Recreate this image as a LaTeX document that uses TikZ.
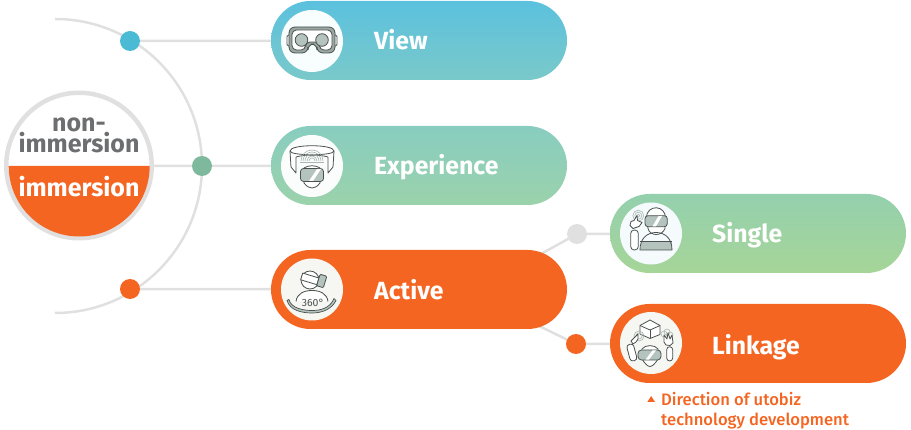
\documentclass[tikz,border=0pt]{standalone}
\usepackage{fontspec}
\usepackage{xcolor}
\setmainfont{Fira Sans}
\newfontfamily\notefont{Fira Sans Medium}
\usetikzlibrary{backgrounds}
\definecolor{accent}{HTML}{F56522}
\definecolor{linkgray}{HTML}{E0E0E0}
\definecolor{textgray}{HTML}{6D6E70}
\definecolor{iconink}{HTML}{4A504E}
\definecolor{iconfill}{HTML}{B4C3BD}
\definecolor{iconhalo}{HTML}{A9B5B0}
\definecolor{viewtop}{HTML}{5BC1DE}
\definecolor{viewbot}{HTML}{7AC9C9}
\definecolor{exptop}{HTML}{88CDC0}
\definecolor{expbot}{HTML}{9BD2AB}
\definecolor{singletop}{HTML}{94D0AE}
\definecolor{singlebot}{HTML}{A6D597}
\definecolor{viewdot}{HTML}{4BBAD5}
\definecolor{expdot}{HTML}{7EB89D}
\definecolor{discwarm}{HTML}{F6F7F2}
\tikzset{
  linkline/.style={draw=linkgray,line width=2.5pt},
  dotmark/.style={circle,minimum size=20pt,inner sep=0pt,outer sep=0pt},
  pillbox/.style={rectangle,rounded corners=39.5pt,minimum width=296pt,minimum height=79pt,inner sep=0pt,outer sep=0pt},
  iconbase/.style={circle,minimum size=62pt,inner sep=0pt,outer sep=0pt,fill=#1},
  pilltext/.style={anchor=west,inner sep=0pt,text=white,font=\bfseries\fontsize{24.8}{24}\selectfont},
  coretext/.style={inner sep=0pt,font=\bfseries\fontsize{25}{19.5}\selectfont,align=center},
  ink/.style={draw=iconink,line width=0.8pt,line join=round},
  inkfill/.style={ink,fill=iconfill},
  halo/.style={draw=iconhalo,line width=0.6pt},
}
\begin{document}
\begin{tikzpicture}[x=1pt,y=-1pt]
\useasboundingbox (0,0) rectangle (911,430);
% centre disc
\node[circle,draw=linkgray,line width=4.5pt,minimum size=145.5pt,inner sep=0pt,outer sep=2.25pt] (core) at (79,165.5) {};
\fill[accent] (8.7,166) arc[start angle=180,end angle=360,radius=70.5pt] -- cycle;
\node[coretext,text=textgray] (coretop) at (79,135.5) {non-\\immersion};
\node[coretext,text=white] (corebottom) at (79,187) {immersion};
% pills
\node[pillbox,top color=viewtop,bottom color=viewbot] (view) at (419,40.5) {};
\node[pillbox,top color=exptop,bottom color=expbot] (experience) at (419,165.5) {};
\node[pillbox,fill=accent] (active) at (419,289.5) {};
\node[pillbox,top color=singletop,bottom color=singlebot] (single) at (758,233.5) {};
\node[pillbox,fill=accent] (linkage) at (758,343.5) {};
\node[pilltext] (viewlabel) at (374,39.5) {View};
\node[pilltext] (experiencelabel) at (374,167) {Experience};
\node[pilltext] (activelabel) at (374,290) {Active};
\node[pilltext] (singlelabel) at (712,235) {Single};
\node[pilltext] (linkagelabel) at (712,347) {Linkage};
% icon discs
\node[iconbase=white!96!viewtop] (viewicon) at (312,41) {};
\node[iconbase=white!96!exptop] (experienceicon) at (312,166) {};
\node[iconbase=discwarm] (activeicon) at (312,289.5) {};
\node[iconbase=white!94!viewtop] (singleicon) at (651,233.5) {};
\node[iconbase=discwarm] (linkageicon) at (651,343) {};
% dots
\node[dotmark,fill=viewdot] (dotview) at (130,41) {};
\node[dotmark,fill=expdot] (dotexperience) at (202,166) {};
\node[dotmark,fill=accent] (dotactive) at (130,289) {};
\node[dotmark,fill=linkgray] (dotsingle) at (577,234) {};
\node[dotmark,fill=accent] (dotlinkage) at (576,344) {};
\coordinate (activeup) at (530,260);
\coordinate (activedown) at (530,321.6);
\coordinate (arctop) at (55,19);
% connectors go under everything else
\begin{scope}[on background layer]
\draw[linkline] (arctop) arc[start angle=90,end angle=-90,radius=147pt];
\draw[linkline] (dotview) -- (view);
\draw[linkline] (core) -- (dotexperience);
\draw[linkline] (dotexperience) -- (experience);
\draw[linkline] (dotactive) -- (active);
\draw[linkline] (dotsingle) -- (activeup);
\draw[linkline] (dotsingle) -- (single);
\draw[linkline] (dotlinkage) -- (activedown);
\draw[linkline] (dotlinkage) -- (linkage);
\end{scope}
% goggles
\begin{scope}[shift={(312,41)}]
\draw[ink,fill=white,rounded corners=1.5pt] (-25,-6) rectangle (-21,5);
\draw[ink,fill=white,rounded corners=1.5pt] (21,-6) rectangle (25,5);
\draw[inkfill,fill=iconfill!75!iconink,rounded corners=6pt] (-23,-14) -- (23,-14) -- (23,12) -- (5,12) -- (5,3) -- (-4,3) -- (-4,12) -- (-23,12) -- cycle;
\draw[ink,fill=white,rounded corners=4.5pt] (-20,-11) -- (20,-11) -- (20,9) -- (7.5,9) -- (7.5,1) -- (-6.5,1) -- (-6.5,9) -- (-20,9) -- cycle;
\draw[inkfill] (-10.5,-1) circle (6.3pt);
\draw[inkfill] (10,-1) circle (6.3pt);
\end{scope}
% surround screen with viewer
\begin{scope}[shift={(312,166)}]
\draw[ink,fill=white] (-22,-15) .. controls (-22,-22) and (22,-22) .. (22,-15) -- (21,1) -- (16,7) -- (16,-9) .. controls (8,-11.5) and (-8,-11.5) .. (-16,-9) -- (-16,7) -- (-21,1) -- cycle;
\draw[ink] (-22,-15) .. controls (-22,-10) and (22,-10) .. (22,-15);
\foreach \r in {3,5,7,9,11}
  \draw[halo] (-\r,-5) arc[start angle=180,end angle=0,radius=\r pt];
\draw[halo] (-12,-4) -- (12,-4);
\draw[ink,fill=white] (-8,2) .. controls (-4,-1) and (4,-1) .. (8,2) -- (8,17) .. controls (5,21) and (2,22) .. (0,22) .. controls (-2,22) and (-5,21) .. (-8,17) -- cycle;
\draw[inkfill,rounded corners=3pt] (-11.5,2.5) rectangle (11.5,15.5);
\fill[white] (1,15) -- (9,3) -- (5,3) -- (-3,15) -- cycle;
\end{scope}
% head with 360 stage
\begin{scope}[shift={(312,289.5)}]
\draw[ink,fill=white] (-2,-9.5) circle (9pt);
\draw[ink,fill=white,rotate around={-17:(-2,-9.5)}] (-11,-14) rectangle (6,-7);
\draw[inkfill,rotate around={-17:(-2,-9.5)},rounded corners=1pt] (6,-18) rectangle (13,-6);
\draw[ink,fill=white] (-16,12) .. controls (-15,4) and (-8,1) .. (0,1) .. controls (8,1) and (15,4) .. (16,12);
\draw[inkfill,line width=0.7pt] (-23,10) .. controls (-21,19) and (-8,21) .. (0,21) .. controls (8,21) and (18,19) .. (22,9) -- (24,11) .. controls (19,21) and (8,23.5) .. (0,23.5) .. controls (-10,23.5) and (-22,21) .. (-25,11) -- cycle;
\node[inner sep=0pt,text=iconink,font=\fontsize{10.5}{11}\selectfont] (stagelabel) at (1,13) {360°};
\end{scope}
% single user with hand control
\begin{scope}[shift={(651,233.5)}]
\foreach \r in {1.5,3.5,5.5}
  \draw[halo] (-12.7,-17.8) circle (\r pt);
\draw[ink,fill=white,rounded corners=3.5pt] (-20.3,-3.5) rectangle (-12.7,16.5);
\draw[ink,fill=white] (-21,-8) -- (-20,-12) -- (-17,-13) -- (-14,-18) -- (-13.5,-13) -- (-9,-11) -- (-12,-7) -- (-18,-5) -- cycle;
\draw[ink,fill=white] (-4,-13) arc[start angle=200,end angle=-20,radius=9.5pt] -- (14,-5) .. controls (11,3) and (-1,3) .. (-3,-5) -- cycle;
\draw[inkfill,rounded corners=3pt] (-6,-17.8) rectangle (16.3,-6.8);
\fill[white] (5,-7.2) -- (11,-17.4) -- (7.5,-17.4) -- (1.5,-7.2) -- cycle;
\fill[iconfill] (-10.5,8) -- (20.8,8) -- (20.8,16.5) -- (-10.5,16.5) -- cycle;
\draw[ink] (-11,16.5) .. controls (-11,4) and (-3,-1) .. (5,-1) .. controls (13,-1) and (21,4) .. (21,16.5) -- cycle;
\draw[ink] (-11,8) -- (20.5,8);
\end{scope}
% shared object with two users
\begin{scope}[shift={(651,343)}]
\draw[ink,fill=white] (-1,-23) -- (9,-17.5) -- (9,-8.5) -- (-1,-4.5) -- (-11,-9) -- (-11,-17.5) -- cycle;
\draw[ink] (-11,-17.5) -- (-1,-13) -- (9,-17.5);
\draw[ink] (-1,-13) -- (-1,-4.5);
\foreach \r in {3,5}
  \draw[halo] (-12,-7) circle (\r pt);
\foreach \a/\b in {13/-9,19/-8,16/-11}
  \draw[halo] (\a,\b) circle (3pt);
\draw[ink,fill=white,rotate around={15:(-19,10)},rounded corners=3pt] (-22.5,1) rectangle (-15.5,18);
\draw[ink,fill=white] (-20,-2) -- (-17,-5) -- (-13,-9) -- (-13,-4) -- (-15,-1) -- (-18,1) -- cycle;
\draw[ink,fill=white,rounded corners=3pt] (15.7,3.7) rectangle (21.7,18);
\draw[ink,fill=white] (13,-1) -- (13,-8) -- (16,-4) -- (17,-10) -- (19,-4) -- (21,-8) -- (22,0) -- (19,2.5) -- (15,2) -- cycle;
\draw[ink,fill=white] (-9,6) .. controls (-6,1.5) and (4,1.5) .. (7,6) -- (7,16) .. controls (4,21) and (1,23.5) .. (-1,23.5) .. controls (-3,23.5) and (-6,21) .. (-9,16) -- cycle;
\draw[inkfill,rounded corners=3.5pt] (-13,7) rectangle (10,17);
\fill[white] (-2,16.6) -- (5,7.4) -- (1.5,7.4) -- (-5.5,16.6) -- cycle;
\end{scope}
% direction note under the last pill
\fill[accent] (647.3,402) -- (655,402) -- (651.2,396) -- cycle;
\node[anchor=west,inner sep=0pt,align=left,text=accent,font=\notefont\fontsize{16.6}{20}\selectfont] (note) at (661,410.5) {Direction of utobiz\\technology development};
\end{tikzpicture}
\end{document}
